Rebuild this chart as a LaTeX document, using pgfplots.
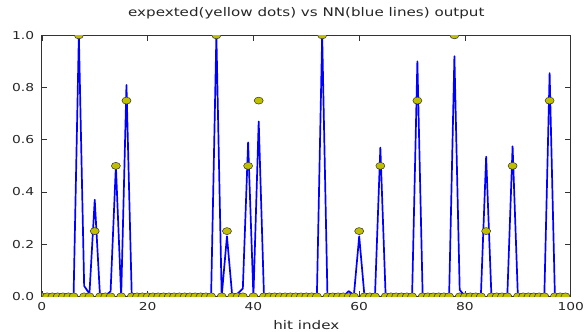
\documentclass[border=0pt]{standalone}
\usepackage{fontspec}
\setmainfont{DejaVu Sans}[FakeStretch=1.27]
\usepackage{pgfplots}
\usepackage{pgfplotstable}
\pgfplotsset{compat=1.18}

\definecolor{dotyellow}{rgb}{0.75,0.75,0}

% network output for each hit index
\pgfplotstableread{
x y
0 0
1 0
2 0
3 0
4 0
5 0
6 0
7 1.0
8 0.04
9 0.01
10 0.37
11 0
12 0
13 0.02
14 0.50
15 0
16 0.81
17 0
18 0
19 0
20 0
21 0
22 0
23 0
24 0
25 0
26 0
27 0
28 0
29 0
30 0
31 0
32 0
33 1.0
34 0
35 0.23
36 0
37 0.01
38 0.03
39 0.59
40 0
41 0.67
42 0
43 0
44 0
45 0
46 0
47 0
48 0
49 0
50 0.01
51 0
52 0
53 1.0
54 0
55 0
56 0
57 0
58 0.02
59 0.005
60 0.23
61 0
62 0
63 0.01
64 0.57
65 0
66 0
67 0
68 0
69 0
70 0
71 0.90
72 0
73 0
74 0
75 0
76 0
77 0
78 0.92
79 0.025
80 0
81 0
82 0
83 0
84 0.535
85 0
86 0
87 0
88 0
89 0.575
90 0
91 0
92 0
93 0
94 0
95 0
96 0.855
97 0
98 0
99 0
}\nnout

% expected value for each hit index
\pgfplotstableread{
x y
0 0
1 0
2 0
3 0
4 0
5 0
6 0
7 1.0
8 0
9 0
10 0.25
11 0
12 0
13 0
14 0.5
15 0
16 0.75
17 0
18 0
19 0
20 0
21 0
22 0
23 0
24 0
25 0
26 0
27 0
28 0
29 0
30 0
31 0
32 0
33 1.0
34 0
35 0.25
36 0
37 0
38 0
39 0.5
40 0
41 0.75
42 0
43 0
44 0
45 0
46 0
47 0
48 0
49 0
50 0
51 0
52 0
53 1.0
54 0
55 0
56 0
57 0
58 0
59 0
60 0.25
61 0
62 0
63 0
64 0.5
65 0
66 0
67 0
68 0
69 0
70 0
71 0.75
72 0
73 0
74 0
75 0
76 0
77 0
78 1.0
79 0
80 0
81 0
82 0
83 0
84 0.25
85 0
86 0
87 0
88 0
89 0.5
90 0
91 0
92 0
93 0
94 0
95 0
96 0.75
97 0
98 0
99 0
}\expected

\begin{document}
\begin{tikzpicture}
\begin{axis}[
  name=main,
  scale only axis,
  width=531bp, height=262bp,
  xmin=0, xmax=100, ymin=0, ymax=1,
  clip marker paths=true,
  xtick={0,20,40,60,80,100},
  ytick={0,0.2,0.4,0.6,0.8,1.0},
  tick align=inside,
  xtick pos=both, ytick pos=both,
  major tick length=5.5bp,
  tick style={black!80, line width=0.6bp},
  axis line style={black!80, line width=0.9bp},
  /pgf/number format/assume math mode=true,
  yticklabel style={/pgf/number format/fixed, /pgf/number format/zerofill,
    /pgf/number format/precision=1, inner sep=0pt, xshift=-7.5bp},
  xticklabel style={inner sep=0pt, yshift=-5.5bp},
  ticklabel style={font=\fontsize{11}{13}\selectfont, text=black!85},
  every axis title shift=0pt,
  title={expexted(yellow dots) vs NN(blue lines) output},
  title style={at={(0.5,1)}, anchor=base, yshift=19bp, inner sep=0pt,
    font=\fontsize{12}{14}\selectfont, text=black!85},
  xlabel={hit index},
  xlabel style={at={(0.5,0)}, anchor=base, yshift=-33bp, inner sep=0pt,
    font=\fontsize{12}{14}\selectfont, text=black!85},
]
\addplot[blue, line width=1.7bp, line join=round] table {\nnout};
\addplot[only marks, mark=*, mark size=3.5bp,
  mark options={xscale=1.3, fill=dotyellow, draw=black!80, line width=0.5bp}]
  table {\expected};
\end{axis}
\path (main.south west) ++(-42bp,-35.5bp) rectangle ++(584bp,333bp);
\end{tikzpicture}
\end{document}
